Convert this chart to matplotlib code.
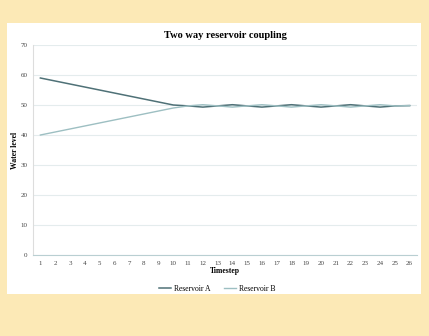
import matplotlib.pyplot as plt
from matplotlib.patches import Rectangle

timesteps = list(range(1, 27))
reservoir_a = [59, 58, 57, 56, 55, 54, 53, 52, 51, 50,
               49.7, 49.3, 49.7, 50.1, 49.7, 49.3, 49.7, 50.1,
               49.7, 49.3, 49.7, 50.1, 49.7, 49.3, 49.7, 49.8]
reservoir_b = [40, 41, 42, 43, 44, 45, 46, 47, 48, 49,
               49.7, 50.1, 49.7, 49.3, 49.7, 50.1, 49.7, 49.3,
               49.7, 50.1, 49.7, 49.3, 49.7, 50.1, 49.7, 49.8]
y_ticks = [0, 10, 20, 30, 40, 50, 60, 70]

plt.rcParams['font.family'] = ['Liberation Serif', 'DejaVu Serif']

fig = plt.figure(figsize=(4.29, 3.36), dpi=100)
fig.patch.set_facecolor('#fce9b6')
# white chart panel
fig.patches.append(Rectangle((7 / 429, 1 - 294 / 336), 414 / 429, 271 / 336,
                             transform=fig.transFigure, facecolor='white',
                             edgecolor='none', zorder=-1))

ax = fig.add_axes([33 / 429, 1 - 255 / 336, 384 / 429, 210 / 336])
ax.set_zorder(2)
ax.set_facecolor('white')

x = list(range(len(timesteps)))
ax.plot(x, reservoir_a, color='#4f7177', lw=1.1, label='Reservoir A')
ax.plot(x, reservoir_b, color='#9dbfc2', lw=1.0, label='Reservoir B')

ax.set_xlim(-0.5, len(timesteps) - 0.5)
ax.set_ylim(0, 70)
ax.set_xticks(x)
ax.set_xticklabels([str(t) for t in timesteps])
ax.set_yticks(y_ticks)
ax.tick_params(labelsize=5, colors='#777777', length=0, pad=4)
for lab in ax.get_xticklabels() + ax.get_yticklabels():
    lab.set_color('#444444')

ax.grid(axis='y', color='#e4eced', lw=0.8)
ax.set_axisbelow(True)
for s in ['top', 'right']:
    ax.spines[s].set_visible(False)
ax.spines['left'].set_color('#dddddd')
ax.spines['bottom'].set_color('#b9cfd2')

ax.set_title('Two way reservoir coupling', fontsize=7.5, fontweight='bold', pad=5)
ax.set_xlabel('Timestep', fontsize=5.5, fontweight='bold', labelpad=1)
ax.set_ylabel('Water level', fontsize=5.5, fontweight='bold', labelpad=1)

ax.legend(loc='upper center', bbox_to_anchor=(0.48, -0.11), ncol=2,
          frameon=False, fontsize=5.5, handlelength=1.6, handletextpad=0.4,
          columnspacing=1.8)

plt.savefig('out.png', dpi=100, facecolor=fig.get_facecolor())
